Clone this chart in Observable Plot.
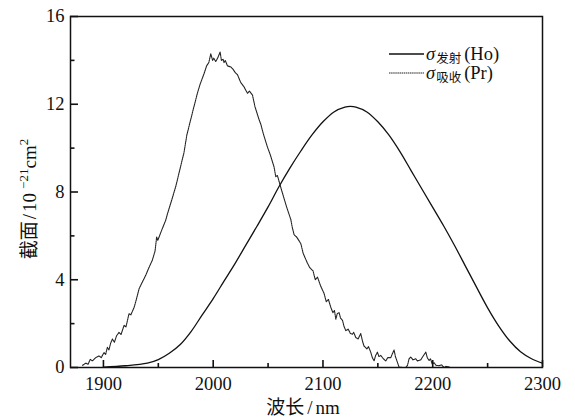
<!DOCTYPE html>
<html><head><meta charset="utf-8">
<script src="https://cdn.jsdelivr.net/npm/d3@7"></script>
<script src="https://cdn.jsdelivr.net/npm/@observablehq/plot@0.6"></script>
<style>body{margin:0;background:#fff}#chart{width:575px;height:420px}</style>
</head><body><div id="chart"></div>
<script>
// σ emission (Ho): [wavelength nm, cross-section 1e-21 cm^2]
const emissionHo = [
  [1900,0.02],[1920,0.08],[1940,0.2],[1950,0.36],[1960,0.65],[1970,1.05],[1980,1.65],[1990,2.4],
  [2000,3.14],[2010,3.95],[2020,4.75],[2030,5.6],[2040,6.45],[2050,7.32],[2060,8.25],[2070,9.1],
  [2080,9.88],[2090,10.6],[2100,11.2],[2110,11.65],[2120,11.87],[2125,11.9],[2130,11.87],[2140,11.65],
  [2150,11.2],[2160,10.6],[2170,9.85],[2180,9.0],[2190,8.15],[2200,7.3],[2210,6.45],[2220,5.55],
  [2230,4.6],[2240,3.65],[2250,2.72],[2260,1.9],[2270,1.22],[2280,0.72],[2290,0.4],[2300,0.2]
];
// σ absorption (Pr)
const absorptionPr = [
  [1881,0.1],[1884,0.2],[1886,0.15],[1888,0.37],[1890,0.3],[1893,0.45],[1896,0.53],[1898,0.45],
  [1900.5,0.68],[1902,0.6],[1903.6,0.92],[1905,0.8],[1906.5,1.1],[1908.2,1.3],[1910,1.15],[1912,1.45],
  [1914.2,1.6],[1916,1.5],[1918.8,1.92],[1920.5,1.85],[1923.3,2.45],[1925,2.4],[1928,2.75],[1930,3.1],
  [1932.4,3.58],[1935,3.85],[1938.5,4.2],[1941,4.5],[1944.6,4.9],[1947,5.3],[1948.5,5.95],[1949.5,5.8],
  [1950.7,5.95],[1953,6.25],[1956.8,6.72],[1958.3,7.0],[1962,7.6],[1965.9,8.25],[1970,9.1],[1973.4,9.8],
  [1976,10.6],[1979.5,11.3],[1982,11.8],[1985.6,12.5],[1988,12.9],[1991.7,13.4],[1994,13.75],[1996,13.9],
  [1997.8,14.3],[1999.5,14.0],[2000.5,14.1],[2002.3,13.95],[2004,14.1],[2006.3,14.38],[2007.5,14.0],
  [2009,14.05],[2009.9,13.9],[2011,14.0],[2013,13.75],[2016,13.7],[2018,13.6],[2020,13.45],[2022.1,13.35],
  [2025,13.0],[2028,12.8],[2031.2,12.5],[2033,12.6],[2035.8,12.42],[2038,11.9],[2041.8,11.3],[2043.3,11.1],
  [2046,10.6],[2049.4,10.05],[2052,9.7],[2055.4,9.15],[2057,8.7],[2058.5,8.75],[2061.5,8.22],[2064,7.8],
  [2067,7.3],[2070.7,6.75],[2072,6.4],[2073.7,6.05],[2076,5.95],[2079.8,5.65],[2082,5.2],[2085.9,4.75],
  [2088,4.55],[2091,4.4],[2093,4.0],[2095,4.12],[2098,3.7],[2101,3.38],[2103,3.0],[2105,3.1],
  [2107.1,2.75],[2109,2.5],[2110.5,2.6],[2111.7,2.2],[2113,2.45],[2114.7,2.5],[2116,2.25],[2117.8,2.15],
  [2119,1.9],[2120.8,1.68],[2123,1.75],[2125,1.55],[2126.9,1.52],[2128,1.6],[2129.9,1.37],[2132,1.3],
  [2134.4,1.55],[2136,1.2],[2137.4,0.98],[2140,0.85],[2141.5,0.95],[2143.5,0.7],[2145,0.45],[2146.6,0.3],
  [2148,0.55],[2149.6,0.7],[2151,0.5],[2152.7,0.55],[2155,0.4],[2157.2,0.3],[2159,0.45],[2161.8,0.45],
  [2163,0.6],[2164.8,0.8],[2166,0.5],[2169.3,0.02],[2172,0],[2175.4,0],[2177,0.1],[2178.5,0.4],
  [2180,0.48],[2182,0.35],[2184.5,0.4],[2186,0.3],[2189.2,0.35],[2191,0.5],[2193.7,0.7],[2195,0.45],
  [2196.7,0.32],[2198,0.4],[2199.5,0.15],[2201.2,0.22],[2203,0.1],[2205.8,0.08],[2208,0.12],[2210.3,0.0],
  [2212,0.05],[2214.9,0.03]
];
const xMajorTicks = [1900, 2000, 2100, 2200, 2300];
const xMinorTicks = [1950, 2050, 2150, 2250];
const yMajorTicks = [0, 4, 8, 12, 16];
const yMinorTicks = [2, 6, 10, 14];
const seriesSymbol = ["σ", "σ"];
const seriesSub = ["发射", "吸收"];
const seriesName = ["(Ho)", "(Pr)"];
const xLabelParts = ["波长", "/", "nm"];
const yLabelParts = ["截面", "/", "10", "−21", "cm", "2"];

const FONT = '"Liberation Serif", "Noto Sans CJK SC", serif';
const W = 575, H = 420, ML = 70, MR = 33, MT = 16, MB = 53;
const PW = W - ML - MR, PH = H - MT - MB;
const toObj = ([nm, v]) => ({nm, v});
const em = emissionHo.map(toObj);
const ab = absorptionPr.map(toObj);

const plot = Plot.plot({
  width: W, height: H,
  marginLeft: ML, marginRight: MR, marginTop: MT, marginBottom: MB,
  style: {fontFamily: FONT, fontSize: "18.5px", color: "#111", background: "#fff"},
  x: {domain: [1870, 2300]},
  y: {domain: [0, 16]},
  marks: [
    Plot.line(ab, {x: "nm", y: "v", stroke: "#222", strokeWidth: 1.1, strokeDasharray: "1.5,0.6"}),
    Plot.line(em, {x: "nm", y: "v", stroke: "#111", strokeWidth: 1.3, curve: "catmull-rom"}),
    Plot.tickX(xMajorTicks, {x: d => d, insetTop: PH - 7, stroke: "#111", strokeWidth: 1.6}),
    Plot.tickX(xMinorTicks, {x: d => d, insetTop: PH - 4, stroke: "#111", strokeWidth: 1.6}),
    Plot.tickY(yMajorTicks, {y: d => d, insetRight: PW - 8, stroke: "#111", strokeWidth: 1.6}),
    Plot.tickY(yMinorTicks, {y: d => d, insetRight: PW - 4.5, stroke: "#111", strokeWidth: 1.6}),
    Plot.axisX({ticks: xMajorTicks, tickSize: 0, tickPadding: 9, tickFormat: d => String(d), label: null}),
    Plot.axisY({ticks: yMajorTicks, tickSize: 0, tickPadding: 6, tickFormat: d => String(d), label: null}),
    Plot.frame({stroke: "#111", strokeWidth: 1.5})
  ]
});
document.getElementById("chart").append(plot);

const svg = d3.select(plot);
const g = svg.append("g").attr("font-family", FONT).attr("fill", "#111").attr("text-anchor", "start");
const rows = [{y: 54, dash: null, w: 1.3, c: "#111"}, {y: 73, dash: "1.5,0.6", w: 1.1, c: "#222"}];
rows.forEach((r, i) => {
  g.append("line").attr("x1", 389).attr("x2", 424).attr("y1", r.y).attr("y2", r.y)
    .attr("stroke", r.c).attr("stroke-width", r.w)
    .attr("stroke-dasharray", r.dash);
  const t = g.append("text").attr("x", 426).attr("y", r.y + 6).attr("font-size", 18.5);
  t.append("tspan").attr("font-style", "italic").text(seriesSymbol[i]);
  t.append("tspan").attr("font-size", 12.5).attr("dy", 3).attr("dx", 1).text(seriesSub[i]);
  t.append("tspan").attr("dy", -3).attr("dx", 3).text(seriesName[i]);
});
const xl = g.append("text").attr("x", 303).attr("y", 414).attr("text-anchor", "middle").attr("font-size", 19);
xl.append("tspan").text(xLabelParts[0]);
xl.append("tspan").attr("dx", 3).text(xLabelParts[1]);
xl.append("tspan").attr("dx", 3).text(xLabelParts[2]);
const yl = g.append("text").attr("transform", "translate(36,199) rotate(-90)")
  .attr("text-anchor", "middle").attr("font-size", 19);
yl.append("tspan").text(yLabelParts[0]);
yl.append("tspan").attr("dx", 2).text(yLabelParts[1]);
yl.append("tspan").attr("dx", 2).text(yLabelParts[2]);
yl.append("tspan").attr("font-size", 13).attr("dy", -8).attr("dx", 4).text(yLabelParts[3]);
yl.append("tspan").attr("dy", 8).text(yLabelParts[4]);
yl.append("tspan").attr("font-size", 13).attr("dy", -8).text(yLabelParts[5]);
</script>
</body></html>
